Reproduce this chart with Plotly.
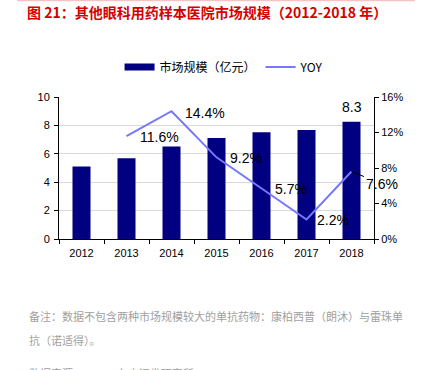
import plotly.graph_objects as go

years = ["2012", "2013", "2014", "2015", "2016", "2017", "2018"]
market_size = [5.10, 5.69, 6.51, 7.11, 7.52, 7.68, 8.26]
yoy_years = ["2013", "2014", "2015", "2016", "2017", "2018"]
yoy = [0.116, 0.144, 0.092, 0.057, 0.022, 0.076]
yoy_labels = ["11.6%", "14.4%", "9.2%", "5.7%", "2.2%", "7.6%"]
bar_label_year = "2018"
bar_label_text = "8.3"

title_text = "图 21：其他眼科用药样本医院市场规模（2012-2018 年）"
note1 = "备注：数据不包含两种市场规模较大的单抗药物：康柏西普（朗沐）与雷珠单"
note2 = "抗（诺适得）。"
note3 = "数据来源：PDB，东方证券研究所"

FONT = "Liberation Sans, Arial, sans-serif"
CJK = "Noto Sans CJK SC, sans-serif"
NAVY = "#000080"

fig = go.Figure()
fig.add_trace(go.Bar(
    x=years, y=market_size, name="市场规模（亿元）", showlegend=False,
    marker=dict(color=NAVY, line=dict(width=0)),
))
# legend-only entry to mimic the wide rectangle key
fig.add_trace(go.Scatter(
    x=[None], y=[None], name="市场规模（亿元）", mode="lines",
    line=dict(color=NAVY, width=7),
))
fig.add_trace(go.Scatter(
    x=yoy_years, y=yoy, name="YOY", yaxis="y2", mode="lines",
    line=dict(color="#7777FF", width=2),
))

annotations = []
shifts = [(33, -1), (33, -2), (29, -1), (29, -1), (26, -1), None]
for xv, yv, lab, sh in zip(yoy_years, yoy, yoy_labels, shifts):
    if sh is None:
        annotations.append(dict(
            x=years.index(xv), y=yv, xref="x", yref="y2", text=lab, showarrow=True,
            arrowhead=0, arrowwidth=1, arrowcolor="#000000", ax=30, ay=12,
            font=dict(family=FONT, size=14, color="#000000"),
        ))
    else:
        annotations.append(dict(
            x=years.index(xv), y=yv, xref="x", yref="y2", text=lab, showarrow=False,
            xshift=sh[0], yshift=sh[1], font=dict(family=FONT, size=14, color="#000000"),
        ))
annotations.append(dict(
    x=years.index(bar_label_year), y=market_size[years.index(bar_label_year)], xref="x", yref="y",
    text=bar_label_text, showarrow=False, yanchor="bottom", yshift=5,
    font=dict(family=FONT, size=14, color="#000000"),
))
for txt, yp, anchor in [(note1, -0.542, "middle"), (note2, -0.711, "middle"), (note3, -0.875, "top")]:
    annotations.append(dict(
        x=-0.1016, y=yp, xref="paper", yref="paper", text=txt, showarrow=False,
        xanchor="left", yanchor=anchor, font=dict(family=CJK, size=11, color="#A0A0A0"),
    ))

fig.update_layout(
    width=423, height=370,
    margin=dict(l=59, r=49, t=97, b=131, autoexpand=False),
    paper_bgcolor="white", plot_bgcolor="white",
    font=dict(family=FONT, size=11, color="#000000"),
    title=dict(
        text=title_text, x=27 / 423, xanchor="left", xref="container",
        y=1 - 13 / 370, yanchor="middle", yref="container",
        font=dict(family=CJK, size=14, color="#D40000", weight="bold"),
    ),
    showlegend=True,
    legend=dict(
        orientation="h", x=0.524, xanchor="center", y=1 + 30 / 142, yanchor="middle",
        font=dict(family=CJK, size=12, color="#000000"),
    ),
    bargap=0.6,
    xaxis=dict(
        type="category", categoryorder="array", categoryarray=years, range=[-0.5, 6.5],
        showline=True, linecolor="#000000", linewidth=1,
        ticks="outside", ticklen=4, tickcolor="#000000", tickson="boundaries",
        showgrid=False, tickfont=dict(family=FONT, size=11), tickangle=0,
        ticklabelstandoff=4,
    ),
    yaxis=dict(
        range=[0, 10], dtick=2, showline=True, linecolor="#000000", linewidth=1,
        ticks="outside", ticklen=4, tickcolor="#000000",
        showgrid=True, gridcolor="#D9D9D9", gridwidth=1, zeroline=False,
        tickfont=dict(family=FONT, size=11), ticklabelstandoff=2,
    ),
    yaxis2=dict(
        range=[0, 0.16], dtick=0.04, tickformat=".0%", overlaying="y", side="right",
        showline=True, linecolor="#000000", linewidth=1,
        ticks="outside", ticklen=4, tickcolor="#000000",
        showgrid=False, zeroline=False, tickfont=dict(family=FONT, size=11),
    ),
    annotations=annotations,
    shapes=[dict(
        type="line", xref="paper", yref="paper",
        x0=(17 - 59) / 315, x1=(415 - 59) / 315, y0=(239 - 0.5) / 142, y1=(239 - 0.5) / 142,
        line=dict(color="#F2C4C4", width=1.5),
    )],
)

fig.write_html(
    "out.html",
    config={"displayModeBar": False},
    post_script="document.body.style.margin='0';document.body.style.overflow='hidden';",
)
